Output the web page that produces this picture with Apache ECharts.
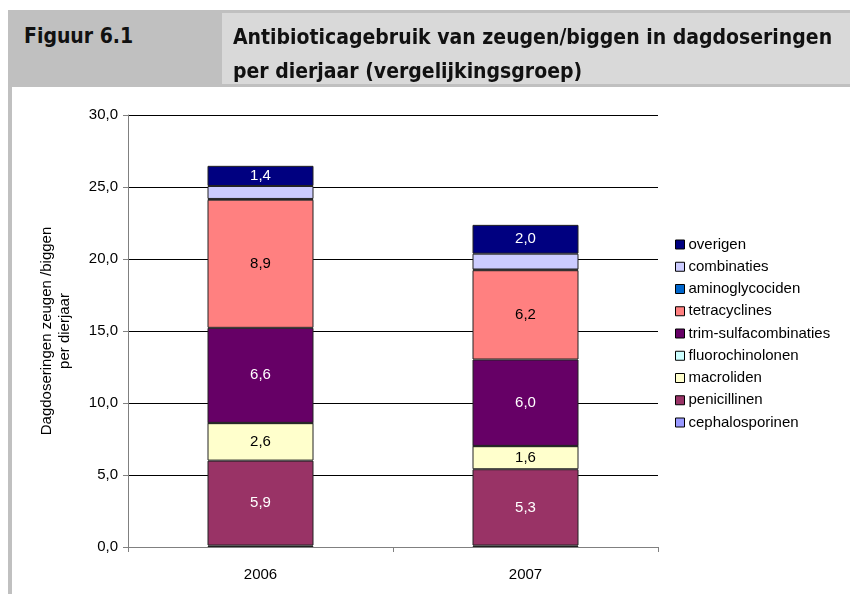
<!DOCTYPE html>
<html>
<head>
<meta charset="utf-8">
<script src="https://cdn.jsdelivr.net/npm/echarts@6/dist/echarts.min.js"></script>
<style>
  html, body { margin: 0; padding: 0; background: #fff; }
  #page { position: relative; width: 850px; height: 594px; overflow: hidden; }
  #chart { position: absolute; left: 0; top: 0; width: 850px; height: 594px; }
  .hdr { position: absolute; font-family: "Liberation Sans Narrow", "DejaVu Sans Condensed", sans-serif;
         font-weight: bold; font-size: 21px; color: #111; }
  #band { position: absolute; left: 8px; top: 10px; width: 842px; height: 77px; background: #c0c0c0; }
  #cellR { position: absolute; left: 222px; top: 13px; width: 628px; height: 71px; background: #d9d9d9; }
  #leftLine { position: absolute; left: 8px; top: 87px; width: 4px; height: 507px; background: #c0c0c0; }
</style>
</head>
<body>
<div id="page">
  <div id="chart"></div>
  <div id="band"></div>
  <div id="cellR"></div>
  <div id="leftLine"></div>
  <div class="hdr" style="left:24px; top:24px;">Figuur 6.1</div>
  <div class="hdr" style="left:233px; top:20px; line-height:34px;">Antibioticagebruik van zeugen/biggen in dagdoseringen<br>per dierjaar (vergelijkingsgroep)</div>
</div>
<script>
// stacked from bottom to top
const years = ["2006", "2007"];
const seriesNames = ["cephalosporinen", "penicillinen", "macroliden", "fluorochinolonen",
  "trim-sulfacombinaties", "tetracyclines", "aminoglycociden", "combinaties", "overigen"];
const cephalosporinen = [0.1, 0.1];
const penicillinen = [5.9, 5.3];
const macroliden = [2.6, 1.6];
const fluorochinolonen = [0.02, 0.02];
const trimSulfa = [6.6, 6.0];
const tetracyclines = [8.9, 6.2];
const aminoglycociden = [0.05, 0.05];
const combinaties = [0.9, 1.1];
const overigen = [1.4, 2.0];
const yTicks = [0, 5, 10, 15, 20, 25, 30];

const values = [cephalosporinen, penicillinen, macroliden, fluorochinolonen,
  trimSulfa, tetracyclines, aminoglycociden, combinaties, overigen];
const colors = ["#9999ff", "#993366", "#ffffcc", "#ccffff", "#660066",
  "#ff8080", "#0066cc", "#ccccff", "#000080"];
const labelColors = ["#000", "#fff", "#000", "#000", "#fff", "#000", "#fff", "#000", "#fff"];

const comma = v => v.toFixed(1).replace(".", ",");
const font = "'Liberation Sans', Arial, sans-serif";

const myChart = echarts.init(document.getElementById("chart"));
myChart.setOption({
  animation: false,
  textStyle: { fontFamily: font },
  grid: { left: 128, right: 192, top: 115, bottom: 47 },
  legend: {
    orient: "vertical",
    left: 670,
    top: 232,
    itemWidth: 9,
    itemHeight: 9,
    itemGap: 7.25,
    icon: "rect",
    itemStyle: { borderColor: "#000", borderWidth: 1 },
    textStyle: { fontSize: 15, color: "#000", fontFamily: font, padding: [0, 0, 0, -1] },
    data: seriesNames.slice().reverse()
  },
  xAxis: {
    type: "category",
    data: years,
    axisLine: { lineStyle: { color: "#808080", width: 1 } },
    axisTick: { show: true, length: 5, lineStyle: { color: "#808080" } },
    axisLabel: { fontSize: 15, color: "#000", margin: 20, fontFamily: font }
  },
  yAxis: {
    type: "value",
    min: yTicks[0],
    max: yTicks[yTicks.length - 1],
    interval: 5,
    name: "Dagdoseringen zeugen /biggen\nper dierjaar",
    nameLocation: "middle",
    nameRotate: 90,
    nameGap: 54,
    nameTextStyle: { fontSize: 15, color: "#000", lineHeight: 18, fontFamily: font },
    axisLine: { show: true, lineStyle: { color: "#808080", width: 1 } },
    axisTick: { show: true, length: 5, lineStyle: { color: "#808080" } },
    axisLabel: { fontSize: 15, color: "#000", margin: 10, fontFamily: font, formatter: v => comma(v) },
    splitLine: { lineStyle: { color: "#000", width: 1 } }
  },
  series: seriesNames.map((name, i) => ({
    name: name,
    type: "bar",
    stack: "total",
    barWidth: "40%",
    data: values[i],
    itemStyle: { color: colors[i], borderColor: "#222", borderWidth: 1 },
    label: {
      show: true,
      position: "inside",
      fontSize: 15,
      fontFamily: font,
      color: labelColors[i],
      formatter: p => (p.value >= 1.2 ? comma(p.value) : "")
    }
  }))
});
</script>
</body>
</html>
